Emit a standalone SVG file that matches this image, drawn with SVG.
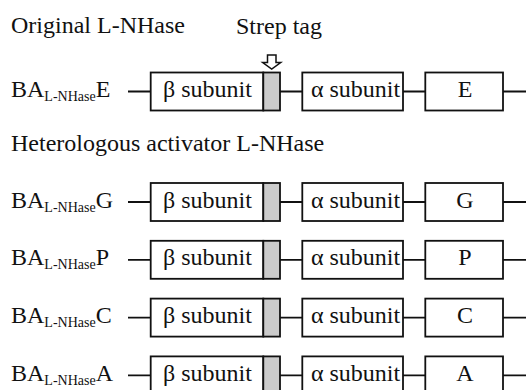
<svg xmlns="http://www.w3.org/2000/svg" width="526" height="390" viewBox="0 0 526 390">
<style>
text{font-family:"Liberation Serif","Times New Roman",serif;font-size:24px;fill:#111}
.sub{font-size:14px}
.box{fill:#fff;stroke:#111;stroke-width:1.8}
.tag{fill:#cbcbcb;stroke:#111;stroke-width:1.8}
.ln{stroke:#111;stroke-width:1.8;fill:none}
.mid{text-anchor:middle}
</style>
<rect width="526" height="390" fill="#fff"/>
<text x="11" y="32.5">Original L-NHase</text>
<text x="236" y="33.5">Strep tag</text>
<path d="M267.5,55 H276 V62.5 H280.7 L271.7,69 L262.7,62.5 H267.5 Z" fill="#fff" stroke="#111" stroke-width="1.5"/>
<text x="11" y="150.5">Heterologous activator L-NHase</text>
<g id="connectors">
<g class="ln">
<path d="M128,91.5H150.7M280,91.5H302.3M403,91.5H425.3M503,91.5H526"/>
<path d="M128,202H150.7M280,202H302.3M403,202H425.3M503,202H526"/>
<path d="M128,259.8H150.7M280,259.8H302.3M403,259.8H425.3M503,259.8H526"/>
<path d="M128,317.6H150.7M280,317.6H302.3M403,317.6H425.3M503,317.6H526"/>
<path d="M128,375.4H150.7M280,375.4H302.3M403,375.4H425.3M503,375.4H526"/>
</g>
</g>
<g id="rowE">
<text x="11" y="97">BA<tspan class="sub" dy="4">L-NHase</tspan><tspan dy="-4">E</tspan></text>
<g id="betaE"><rect class="box" x="150.7" y="72.5" width="112.6" height="38"/><text class="mid" x="207.5" y="97">β subunit</text></g>
<rect id="tagE" class="tag" x="263.3" y="72.5" width="16.7" height="38"/>
<g id="alphaE"><rect class="box" x="302.3" y="72.5" width="100.7" height="38"/><text class="mid" x="355.5" y="97">α subunit</text></g>
<g id="actE"><rect class="box" x="425.3" y="72.5" width="77.7" height="38"/><text class="mid" x="465" y="97">E</text></g>
</g>
<g id="rowG">
<text x="11" y="207.5">BA<tspan class="sub" dy="4">L-NHase</tspan><tspan dy="-4">G</tspan></text>
<g id="betaG"><rect class="box" x="150.7" y="183" width="112.6" height="38"/><text class="mid" x="207.5" y="207.5">β subunit</text></g>
<rect id="tagG" class="tag" x="263.3" y="183" width="16.7" height="38"/>
<g id="alphaG"><rect class="box" x="302.3" y="183" width="100.7" height="38"/><text class="mid" x="355.5" y="207.5">α subunit</text></g>
<g id="actG"><rect class="box" x="425.3" y="183" width="77.7" height="38"/><text class="mid" x="465" y="207.5">G</text></g>
</g>
<g id="rowP">
<text x="11" y="265.3">BA<tspan class="sub" dy="4">L-NHase</tspan><tspan dy="-4">P</tspan></text>
<g id="betaP"><rect class="box" x="150.7" y="240.8" width="112.6" height="38"/><text class="mid" x="207.5" y="265.3">β subunit</text></g>
<rect id="tagP" class="tag" x="263.3" y="240.8" width="16.7" height="38"/>
<g id="alphaP"><rect class="box" x="302.3" y="240.8" width="100.7" height="38"/><text class="mid" x="355.5" y="265.3">α subunit</text></g>
<g id="actP"><rect class="box" x="425.3" y="240.8" width="77.7" height="38"/><text class="mid" x="465" y="265.3">P</text></g>
</g>
<g id="rowC">
<text x="11" y="323.1">BA<tspan class="sub" dy="4">L-NHase</tspan><tspan dy="-4">C</tspan></text>
<g id="betaC"><rect class="box" x="150.7" y="298.6" width="112.6" height="38"/><text class="mid" x="207.5" y="323.1">β subunit</text></g>
<rect id="tagC" class="tag" x="263.3" y="298.6" width="16.7" height="38"/>
<g id="alphaC"><rect class="box" x="302.3" y="298.6" width="100.7" height="38"/><text class="mid" x="355.5" y="323.1">α subunit</text></g>
<g id="actC"><rect class="box" x="425.3" y="298.6" width="77.7" height="38"/><text class="mid" x="465" y="323.1">C</text></g>
</g>
<g id="rowA">
<text x="11" y="380.9">BA<tspan class="sub" dy="4">L-NHase</tspan><tspan dy="-4">A</tspan></text>
<g id="betaA"><rect class="box" x="150.7" y="356.4" width="112.6" height="38"/><text class="mid" x="207.5" y="380.9">β subunit</text></g>
<rect id="tagA" class="tag" x="263.3" y="356.4" width="16.7" height="38"/>
<g id="alphaA"><rect class="box" x="302.3" y="356.4" width="100.7" height="38"/><text class="mid" x="355.5" y="380.9">α subunit</text></g>
<g id="actA"><rect class="box" x="425.3" y="356.4" width="77.7" height="38"/><text class="mid" x="465" y="380.9">A</text></g>
</g>
</svg>
